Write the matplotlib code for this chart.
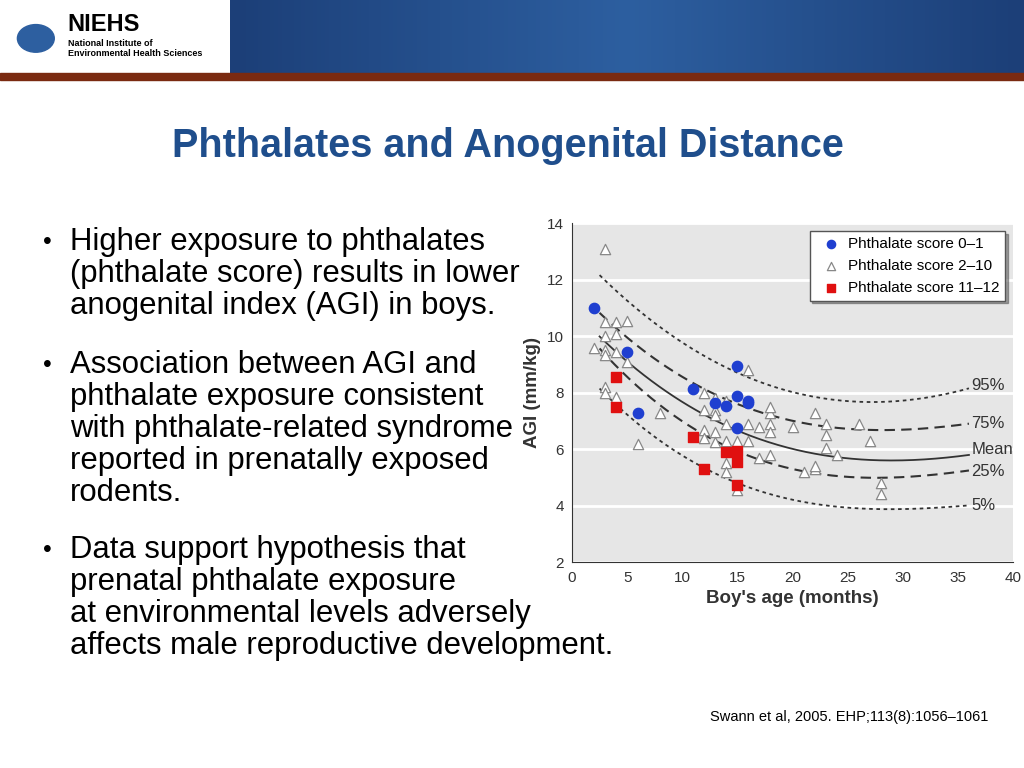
import numpy as np
import matplotlib.pyplot as plt

# data
blue_x = [2, 5, 6, 11, 13, 14, 15, 15, 16, 16, 15]
blue_y = [11.0, 9.45, 7.3, 8.15, 7.65, 7.55, 8.95, 7.9, 7.7, 7.65, 6.75]
red_x = [4, 4, 11, 12, 14, 15, 15, 15]
red_y = [8.55, 7.5, 6.45, 5.3, 5.9, 5.95, 5.55, 4.75]
tri_x = [3, 3, 4, 5, 3, 4, 2, 3, 3, 4, 5, 3, 3, 4, 6, 8, 12, 13, 14, 13, 12, 13,
         14, 12, 13, 12, 13, 14, 15, 16, 14, 14, 15, 16, 17, 18, 18, 18, 17, 18,
         20, 16, 22, 23, 23, 24, 23, 21, 22, 22, 26, 27, 28, 28, 18]
tri_y = [13.1, 10.5, 10.5, 10.55, 10.0, 10.1, 9.6, 9.5, 9.35, 9.45, 9.1, 8.2, 8.0,
         7.85, 6.2, 7.3, 8.0, 7.8, 7.7, 7.4, 7.4, 7.2, 6.9, 6.7, 6.6, 6.4, 6.25,
         6.3, 6.3, 6.3, 5.5, 5.2, 4.55, 6.9, 6.8, 7.3, 6.9, 6.6, 5.7, 5.8, 6.8,
         8.8, 7.3, 6.9, 6.5, 5.8, 6.05, 5.2, 5.3, 5.4, 6.9, 6.3, 4.8, 4.4, 7.5]

curve_x = [2.5, 5, 10, 15, 20, 25, 30, 36]
p95 = [12.2, 11.2, 9.85, 8.7, 8.0, 7.7, 7.75, 8.15]
p75 = [10.8, 10.0, 8.6, 7.55, 7.0, 6.75, 6.7, 6.9]
mean = [10.0, 9.1, 7.7, 6.65, 6.0, 5.7, 5.6, 5.8]
p25 = [9.55, 8.6, 7.0, 5.9, 5.3, 5.05, 5.0, 5.25]
p5 = [8.1, 7.3, 5.8, 4.75, 4.2, 3.95, 3.9, 4.0]
curve_labels = ["95%", "75%", "Mean", "25%", "5%"]
label_nudge = [0.1, 0.0, 0.2, -0.05, 0.0]

x_ticks = [0, 5, 10, 15, 20, 25, 30, 35, 40]
y_ticks = [2, 4, 6, 8, 10, 12, 14]

FONT = "Liberation Sans"
fig = plt.figure(figsize=(10.24, 7.68), dpi=100)

# header band
hdr = fig.add_axes([0.225, 0.905, 0.775, 0.095])
grad = np.linspace(0, 1, 200).reshape(1, -1)
hdr.imshow(grad, aspect="auto", cmap=plt.matplotlib.colors.LinearSegmentedColormap.from_list(
    "h", ["#1c3f78", "#2d5fa0", "#1c3f78"]), extent=[0, 1, 0, 1])
hdr.axis("off")
fig.add_artist(plt.Rectangle((0, 0.896), 1, 0.009, color="#7a2a10", transform=fig.transFigure))
fig.text(0.066, 0.968, "NIEHS", fontsize=17, fontweight="bold", family=FONT, va="center")
fig.text(0.066, 0.937, "National Institute of\nEnvironmental Health Sciences", fontsize=6.5,
         fontweight="bold", family=FONT, va="center", linespacing=1.1)
fig.add_artist(plt.Circle((0.035, 0.95), 0.018, color="#2d5fa0", transform=fig.transFigure))

fig.text(0.496, 0.81, "Phthalates and Anogenital Distance", fontsize=28.5, fontweight="bold",
         color="#1f4e8c", ha="center", va="center", family=FONT)

bullets = [
    (242, ["Higher exposure to phthalates", "(phthalate score) results in lower",
           "anogenital index (AGI) in boys."]),
    (365, ["Association between AGI and", "phthalate exposure consistent",
           "with phthalate-related syndrome", "reported in prenatally exposed", "rodents."]),
    (550, ["Data support hypothesis that", "prenatal phthalate exposure",
           "at environmental levels adversely", "affects male reproductive development."]),
]
for top, lines in bullets:
    fig.text(0.042, 1 - top / 768, "\u2022", fontsize=18, family=FONT, va="center", zorder=10)
    for i, line in enumerate(lines):
        fig.text(0.068, 1 - (top + 32 * i) / 768, line, fontsize=22.4, family=FONT,
                 va="center", zorder=10)

fig.text(0.965, 0.067, "Swann et al, 2005. EHP;113(8):1056\u20131061", fontsize=10.5,
         family=FONT, ha="right", va="center")

ax = fig.add_axes([0.5586, 0.268, 0.4307, 0.441])
ax.set_facecolor("#e6e6e6")
ax.set_xlim(0, 40)
ax.set_ylim(2, 14)
ax.set_xticks(x_ticks)
ax.set_yticks(y_ticks)
for s in ["top", "right"]:
    ax.spines[s].set_visible(False)
ax.spines["left"].set_color("#333333")
ax.spines["bottom"].set_color("#333333")
ax.grid(axis="y", color="white", lw=2)
ax.set_axisbelow(True)
ax.tick_params(labelsize=11, colors="#333333", length=0, pad=6)
for t in ax.get_xticklabels() + ax.get_yticklabels():
    t.set_family(FONT)
ax.set_xlabel("Boy's age (months)", fontsize=13.5, fontweight="bold", family=FONT, color="#333333")
ax.set_ylabel("AGI (mm/kg)", fontsize=13.5, fontweight="bold", family=FONT, color="#333333")

xs = np.linspace(curve_x[0], curve_x[-1], 200)
styles = [((0, (2, 2)), 1.3), ((0, (5, 3)), 1.5), ("-", 1.3), ((0, (5, 3)), 1.5), ((0, (2, 2)), 1.3)]
for ys, (ls, lw), lab, dy in zip([p95, p75, mean, p25, p5], styles, curve_labels, label_nudge):
    c = np.polyfit(curve_x, ys, 3)
    ax.plot(xs, np.polyval(c, xs), color="#333333", ls=ls, lw=lw, zorder=2)
    ax.text(36.2, ys[-1] + dy, lab, fontsize=12, color="#333333", va="center",
            family=FONT, clip_on=False)

ax.scatter(tri_x, tri_y, marker="^", s=55, facecolor="white", edgecolor="#888888", lw=0.9,
           zorder=3, label="Phthalate score 2\u201310")
ax.scatter(blue_x, blue_y, marker="o", s=55, color="#1f3fd0", zorder=4, label="Phthalate score 0\u20131")
ax.scatter(red_x, red_y, marker="s", s=55, color="#e01010", zorder=4, label="Phthalate score 11\u201312")

h, l = ax.get_legend_handles_labels()
order = [1, 0, 2]
leg = ax.legend([h[i] for i in order], [l[i] for i in order], loc="upper right",
                frameon=True, fancybox=False, shadow=True, handletextpad=0.1, markerscale=0.8,
                borderpad=0.4, labelspacing=0.5, prop={"family": FONT, "size": 11})
leg.get_frame().set_edgecolor("#555555")

fig.savefig("out.png", dpi=100)
